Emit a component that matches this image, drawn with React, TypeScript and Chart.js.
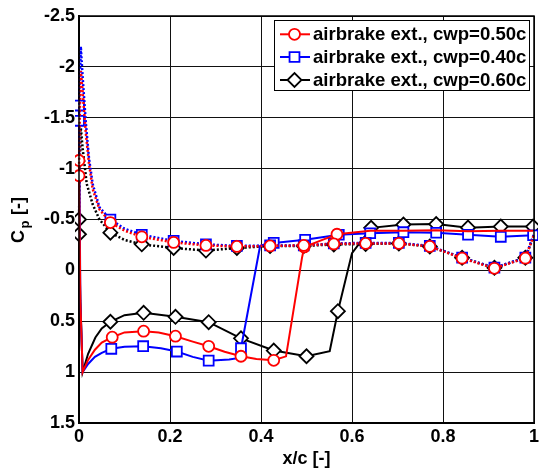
import React, { useEffect, useRef } from 'react';
import { Chart, registerables } from 'chart.js';
import { drawPoint } from 'chart.js/helpers';
Chart.register(...registerables);

const FONT = '"Liberation Sans", Arial, Helvetica, sans-serif';

const xTickValues = [0, 0.2, 0.4, 0.6, 0.8, 1];
const xTickLabels = ['0', '0.2', '0.4', '0.6', '0.8', '1'];
const yTickValues = [-2.5, -2, -1.5, -1, -0.5, 0, 0.5, 1, 1.5];
const yTickLabels = ['-2.5', '-2', '-1.5', '-1', '-0.5', '0', '0.5', '1', '1.5'];

const seriesNames = ['airbrake ext., cwp=0.50c', 'airbrake ext., cwp=0.40c', 'airbrake ext., cwp=0.60c'];
const seriesColors = ['#ff0000', '#0000ff', '#000000'];
const seriesMarkers = ['circle', 'rect', 'rectRot'];
const seriesMarkerRadius = [5.5, 7, 7];

// cwp = 0.50c (red)
const redLowerX = [0, 0.003, 0.008, 0.02, 0.035, 0.05, 0.073, 0.1, 0.142, 0.175, 0.212, 0.25, 0.285, 0.32, 0.356, 0.39, 0.428, 0.455, 0.49, 0.495, 0.535, 0.567, 0.64, 0.713, 0.785, 0.855, 0.927, 0.998];
const redLowerY = [-1.08, 0.3, 1.0, 0.88, 0.78, 0.71, 0.657, 0.61, 0.598, 0.61, 0.647, 0.7, 0.746, 0.8, 0.844, 0.87, 0.884, 0.845, -0.12, -0.23, -0.3, -0.355, -0.39, -0.39, -0.395, -0.385, -0.39, -0.39];
const redLowerM = [1, 0, 0, 0, 0, 0, 1, 0, 1, 0, 1, 0, 1, 0, 1, 0, 1, 0, 0, 1, 0, 1, 0, 0, 0, 0, 0, 0];
const redUpperX = [0, 0.002, 0.004, 0.008, 0.015, 0.022, 0.03, 0.045, 0.069, 0.1, 0.138, 0.208, 0.279, 0.347, 0.42, 0.494, 0.56, 0.63, 0.703, 0.771, 0.842, 0.913, 0.981, 1.0];
const redUpperY = [-0.93, -1.6, -1.96, -1.75, -1.35, -1.05, -0.8, -0.6, -0.47, -0.39, -0.33, -0.275, -0.245, -0.235, -0.24, -0.245, -0.26, -0.265, -0.265, -0.235, -0.12, -0.02, -0.12, -0.35];
const redUpperM = [1, 0, 0, 0, 0, 0, 0, 0, 1, 0, 1, 1, 1, 1, 1, 1, 1, 1, 1, 1, 1, 1, 1, 0];

// cwp = 0.40c (blue)
const blueLowerX = [0, 0.003, 0.008, 0.02, 0.035, 0.05, 0.071, 0.1, 0.141, 0.18, 0.215, 0.25, 0.285, 0.33, 0.352, 0.356, 0.398, 0.41, 0.428, 0.497, 0.571, 0.64, 0.713, 0.785, 0.855, 0.927, 0.998];
const blueLowerY = [-1.62, 0.3, 1.0, 0.92, 0.85, 0.81, 0.771, 0.75, 0.745, 0.765, 0.798, 0.85, 0.887, 0.875, 0.86, 0.765, -0.24, -0.26, -0.27, -0.3, -0.35, -0.365, -0.375, -0.37, -0.35, -0.33, -0.345];
const blueLowerM = [1, 0, 0, 0, 0, 0, 1, 0, 1, 0, 1, 0, 1, 0, 0, 1, 0, 0, 1, 1, 1, 1, 1, 1, 1, 1, 1];
const blueUpperX = [0, 0.002, 0.004, 0.008, 0.015, 0.022, 0.03, 0.045, 0.069, 0.1, 0.138, 0.208, 0.279, 0.347, 0.42, 0.494, 0.56, 0.63, 0.703, 0.771, 0.842, 0.913, 0.981, 1.0];
const blueUpperY = [-1.47, -1.9, -2.2, -1.9, -1.45, -1.1, -0.85, -0.62, -0.5, -0.41, -0.35, -0.29, -0.256, -0.24, -0.245, -0.245, -0.265, -0.27, -0.27, -0.24, -0.125, -0.027, -0.125, -0.36];
const blueUpperM = [1, 0, 0, 0, 0, 0, 0, 0, 1, 0, 1, 1, 1, 1, 1, 1, 1, 1, 1, 1, 1, 1, 1, 0];

// cwp = 0.60c (black)
const blackLowerX = [0, 0.003, 0.008, 0.02, 0.036, 0.05, 0.069, 0.1, 0.142, 0.212, 0.285, 0.356, 0.428, 0.5, 0.551, 0.569, 0.6, 0.642, 0.713, 0.785, 0.855, 0.927, 0.998];
const blackLowerY = [-0.355, 0.3, 1.0, 0.82, 0.66, 0.57, 0.505, 0.44, 0.417, 0.456, 0.509, 0.668, 0.788, 0.844, 0.795, 0.401, -0.17, -0.418, -0.45, -0.455, -0.42, -0.43, -0.43];
const blackLowerM = [1, 0, 0, 0, 0, 0, 1, 0, 1, 1, 1, 1, 1, 1, 0, 1, 0, 1, 1, 1, 1, 1, 1];
const blackUpperX = [0, 0.002, 0.004, 0.008, 0.017, 0.03, 0.045, 0.06, 0.069, 0.1, 0.138, 0.208, 0.279, 0.347, 0.42, 0.494, 0.56, 0.63, 0.703, 0.771, 0.842, 0.913, 0.981, 1.0];
const blackUpperY = [-0.5, -1.1, -1.4, -1.2, -0.85, -0.65, -0.5, -0.42, -0.37, -0.3, -0.256, -0.22, -0.195, -0.22, -0.24, -0.24, -0.255, -0.26, -0.265, -0.235, -0.125, -0.025, -0.125, -0.35];
const blackUpperM = [1, 0, 0, 0, 0, 0, 0, 0, 1, 0, 1, 1, 1, 1, 1, 1, 1, 1, 1, 1, 1, 1, 1, 0];

const toPoints = (xs: number[], ys: number[]) => xs.map((x, i) => ({ x, y: ys[i] }));

const overlayPlugin = {
  id: 'overlay',
  afterDraw(chart: any) {
    const { ctx, chartArea } = chart;
    ctx.save();
    // axis box
    ctx.strokeStyle = '#000';
    ctx.lineWidth = 1.5;
    ctx.strokeRect(chartArea.left, chartArea.top, chartArea.right - chartArea.left, chartArea.bottom - chartArea.top);

    // x title
    ctx.fillStyle = '#000';
    ctx.font = `bold 18px ${FONT}`;
    ctx.textAlign = 'center';
    ctx.textBaseline = 'middle';
    ctx.fillText('x/c [-]', (chartArea.left + chartArea.right) / 2, 459);

    // y title with subscript
    ctx.save();
    ctx.translate(19, 220);
    ctx.rotate(-Math.PI / 2);
    const big = `bold 18px ${FONT}`;
    const small = `bold 13px ${FONT}`;
    ctx.textAlign = 'left';
    ctx.textBaseline = 'middle';
    ctx.font = big;
    const wC = ctx.measureText('C').width;
    const wR = ctx.measureText(' [-]').width;
    ctx.font = small;
    const wP = ctx.measureText('p').width + 2;
    const x0 = -(wC + wP + wR) / 2;
    ctx.font = big;
    ctx.fillText('C', x0, 0);
    ctx.font = small;
    ctx.fillText('p', x0 + wC + 1.5, 6);
    ctx.font = big;
    ctx.fillText(' [-]', x0 + wC + wP, 0);
    ctx.restore();

    // legend
    const bx = 274.5, by = 20.5, bw = 255, bh = 70;
    ctx.fillStyle = '#fff';
    ctx.fillRect(bx, by, bw, bh);
    ctx.strokeStyle = '#000';
    ctx.lineWidth = 1;
    ctx.strokeRect(bx, by, bw, bh);
    const rows = [34.3, 57, 80];
    seriesNames.forEach((name, i) => {
      const y = rows[i];
      ctx.strokeStyle = seriesColors[i];
      ctx.lineWidth = 2;
      ctx.setLineDash([]);
      ctx.beginPath();
      ctx.moveTo(280, y);
      ctx.lineTo(310, y);
      ctx.stroke();
      ctx.fillStyle = '#fff';
      ctx.lineWidth = 1.8;
      drawPoint(ctx, { pointStyle: seriesMarkers[i], radius: seriesMarkerRadius[i], rotation: 0, borderWidth: 1.8 } as any, 294.5, y);
      ctx.fillStyle = '#000';
      ctx.font = `bold 18.6px ${FONT}`;
      ctx.textAlign = 'left';
      ctx.textBaseline = 'middle';
      ctx.fillText(name, 313, y + 1);
    });
    ctx.restore();
  },
};

export default function App() {
  const ref = useRef<HTMLCanvasElement | null>(null);
  useEffect(() => {
    if (!ref.current) return;
    const groups = [
      { uX: redUpperX, uY: redUpperY, uM: redUpperM, lX: redLowerX, lY: redLowerY, lM: redLowerM },
      { uX: blueUpperX, uY: blueUpperY, uM: blueUpperM, lX: blueLowerX, lY: blueLowerY, lM: blueLowerM },
      { uX: blackUpperX, uY: blackUpperY, uM: blackUpperM, lX: blackLowerX, lY: blackLowerY, lM: blackLowerM },
    ];
    const datasets: any[] = [];
    groups.forEach((g, s) => {
      const parts: [number[], number[], number[], number[]][] = [
        [g.uX, g.uY, g.uM, [2, 2]],
        [g.lX, g.lY, g.lM, []],
      ];
      parts.forEach(([xs, ys, ms, dash]) => {
        datasets.push({
          label: seriesNames[s],
          data: toPoints(xs, ys),
          showLine: true,
          borderColor: seriesColors[s],
          borderWidth: dash.length ? 2.5 : 2,
          borderDash: dash,
          pointStyle: seriesMarkers[s],
          pointRadius: (c: any) => (ms[c.dataIndex] ? seriesMarkerRadius[s] : 0),
          pointHoverRadius: 0,
          pointBorderColor: seriesColors[s],
          pointBackgroundColor: '#ffffff',
          pointBorderWidth: 1.8,
          tension: 0,
          clip: 4,
        });
      });
    });

    const tickFont = { family: FONT, size: 18, weight: 'bold' as const };
    const chart = new Chart(ref.current, {
      type: 'scatter',
      data: { datasets },
      plugins: [overlayPlugin],
      options: {
        animation: false,
        responsive: false,
        events: [],
        layout: { padding: { left: 0, top: 16, right: 9, bottom: 0 } },
        plugins: { legend: { display: false }, tooltip: { enabled: false } },
        scales: {
          x: {
            type: 'linear',
            min: 0,
            max: 1,
            afterBuildTicks: (sc: any) => { sc.ticks = xTickValues.map((v) => ({ value: v })); },
            afterFit: (sc: any) => { sc.height = 46; },
            ticks: {
              callback: (_v: any, i: number) => xTickLabels[i],
              font: tickFont,
              color: '#000',
              padding: 3,
              maxRotation: 0,
              autoSkip: false,
            },
            grid: { color: '#111', lineWidth: 1, drawTicks: false },
            border: { color: '#000', width: 2 },
          },
          y: {
            type: 'linear',
            min: -2.5,
            max: 1.5,
            reverse: true,
            afterBuildTicks: (sc: any) => { sc.ticks = yTickValues.map((v) => ({ value: v })); },
            afterFit: (sc: any) => { sc.width = 79; },
            ticks: {
              callback: (_v: any, i: number) => yTickLabels[i],
              font: tickFont,
              color: '#000',
              padding: 4,
              autoSkip: false,
            },
            grid: { color: '#111', lineWidth: 1, drawTicks: false },
            border: { color: '#000', width: 2 },
          },
        },
      },
    });
    return () => chart.destroy();
  }, []);
  return (
    <div style={{ position: 'absolute', left: 0, top: 0, width: 543, height: 469, background: '#fff' }}>
      <canvas ref={ref} width={543} height={469} style={{ width: 543, height: 469, display: 'block' }} />
    </div>
  );
}
